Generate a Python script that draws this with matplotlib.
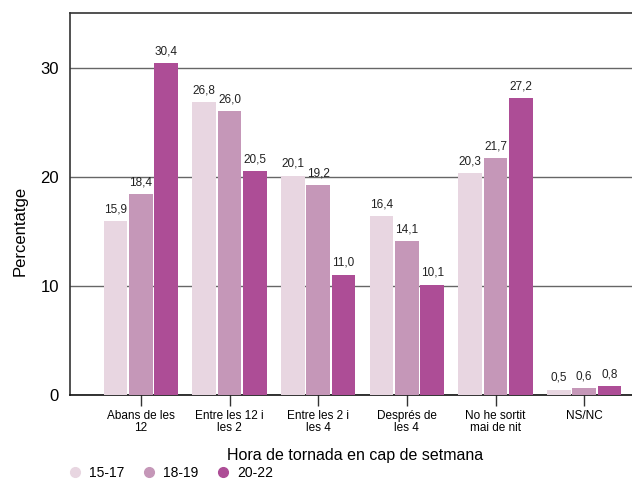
import matplotlib
matplotlib.use("Agg")
import matplotlib.pyplot as plt
import numpy as np
from matplotlib.lines import Line2D

plt.rcParams['font.family'] = ['Liberation Sans', 'DejaVu Sans']

categories = ["Abans de les\n12", "Entre les 12 i\nles 2", "Entre les 2 i\nles 4",
              "Després de\nles 4", "No he sortit\nmai de nit", "NS/NC"]
series_names = ["15-17", "18-19", "20-22"]
v_15_17 = [15.9, 26.8, 20.1, 16.4, 20.3, 0.5]
v_18_19 = [18.4, 26.0, 19.2, 14.1, 21.7, 0.6]
v_20_22 = [30.4, 20.5, 11.0, 10.1, 27.2, 0.8]
colors = ["#e8d6e1", "#c597b8", "#ad4d96"]

fig = plt.figure(figsize=(6.32, 4.79), dpi=100)
ax = fig.add_axes([70 / 632, (479 - 395) / 479, (640 - 70) / 632, (395 - 13) / 479])

x = np.arange(len(categories))
width = 0.266
offset = 0.286
for i, (vals, c) in enumerate(zip([v_15_17, v_18_19, v_20_22], colors)):
    pos = x + (i - 1) * offset
    ax.bar(pos, vals, width=width, color=c, zorder=3)
    for p, v in zip(pos, vals):
        ax.text(p, v + 0.55, f"{v:.1f}".replace(".", ","), ha="center", va="bottom",
                fontsize=8.5, color="#222222", zorder=4)

ax.set_ylim(0, 35)
ax.set_xlim(-0.80, 5.63)
ax.set_yticks([0, 10, 20, 30])
ax.yaxis.grid(True, color="#666666", linewidth=1.0, zorder=0)
ax.tick_params(axis="y", length=0, labelsize=12, pad=8)
ax.set_xticks(x)
ax.set_xticklabels(categories, fontsize=8.5, linespacing=0.95)
ax.tick_params(axis="x", length=8, width=1, color="#333333", pad=3)

ax.spines["left"].set_color("#333333")
ax.spines["bottom"].set_color("#111111")
ax.spines["top"].set_color("#333333")
ax.spines["right"].set_visible(False)
for s in ["left", "bottom", "top"]:
    ax.spines[s].set_linewidth(1.2)

ax.set_ylabel("Percentatge", fontsize=12)
ax.yaxis.set_label_coords(-0.075, 0.43)
ax.set_xlabel("Hora de tornada en cap de setmana", fontsize=11.5, labelpad=10)

handles = [Line2D([0], [0], marker="o", linestyle="", markersize=7,
                  markerfacecolor=c, markeredgecolor=c) for c in colors]
fig.legend(handles, series_names, loc="center left", bbox_to_anchor=(0.1076, 0.0125),
           ncol=3, frameon=False, fontsize=10, handlelength=1.0, handletextpad=0.5,
           columnspacing=1.3, borderpad=0, borderaxespad=0)

fig.savefig("out.png", dpi=100)
